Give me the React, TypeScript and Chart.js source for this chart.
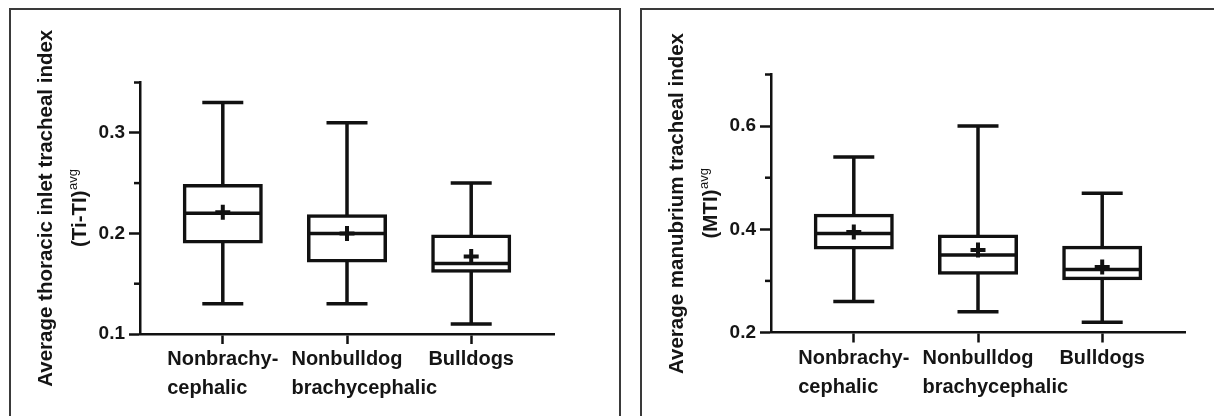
import React, { useEffect, useRef } from "react";
import { Chart, registerables } from "chart.js";

Chart.register(...registerables);

// ---------- data ----------
const categories: string[][] = [
  ["Nonbrachy-", "cephalic"],
  ["Nonbulldog", "brachycephalic"],
  ["Bulldogs"],
];
const categoryPositions = [1, 2, 3];

// Thoracic inlet tracheal index (Ti-TI)avg
const tiMin = [0.13, 0.13, 0.11];
const tiQ1 = [0.191, 0.172, 0.162];
const tiMedian = [0.22, 0.2, 0.17];
const tiQ3 = [0.248, 0.218, 0.198];
const tiMax = [0.33, 0.31, 0.25];
const tiMean = [0.221, 0.2, 0.177];
const tiMajorTicks = [0.1, 0.2, 0.3];
const tiMinorTicks = [0.15, 0.25, 0.35];
const tiTickLabels = ["0.1", "0.2", "0.3"];

// Manubrium tracheal index (MTI)avg
const mtiMin = [0.26, 0.24, 0.22];
const mtiQ1 = [0.363, 0.314, 0.303];
const mtiMedian = [0.392, 0.35, 0.322];
const mtiQ3 = [0.428, 0.388, 0.366];
const mtiMax = [0.54, 0.6, 0.47];
const mtiMean = [0.395, 0.36, 0.327];
const mtiMajorTicks = [0.2, 0.4, 0.6];
const mtiMinorTicks = [0.3, 0.5, 0.7];
const mtiTickLabels = ["0.2", "0.4", "0.6"];

// ---------- styling ----------
const FONT = "'Liberation Sans', Arial, Helvetica, sans-serif";
const INK = "#111111";
const TEXT = "#151515";
const CLEAR = "rgba(0,0,0,0)";

type Panel = {
  min: number[];
  q1: number[];
  median: number[];
  q3: number[];
  max: number[];
  mean: number[];
  yMin: number;
  yMax: number;
  major: number[];
  minor: number[];
  majorLabels: string[];
  title1: string;
  title2: string;
  titleSup: string;
  padTop: number;
  padRight: number;
  axisWidth: number;
  xAxisHeight: number;
};

const leftPanel: Panel = {
  min: tiMin, q1: tiQ1, median: tiMedian, q3: tiQ3, max: tiMax, mean: tiMean,
  yMin: 0.1, yMax: 0.35,
  major: tiMajorTicks, minor: tiMinorTicks, majorLabels: tiTickLabels,
  title1: "Average thoracic inlet tracheal index",
  title2: "(Ti-TI)",
  titleSup: "avg",
  padTop: 82.5, padRight: 76, axisWidth: 140, xAxisHeight: 82,
};

const rightPanel: Panel = {
  min: mtiMin, q1: mtiQ1, median: mtiMedian, q3: mtiQ3, max: mtiMax, mean: mtiMean,
  yMin: 0.2, yMax: 0.7,
  major: mtiMajorTicks, minor: mtiMinorTicks, majorLabels: mtiTickLabels,
  title1: "Average manubrium tracheal index",
  title2: "(MTI)",
  titleSup: "avg",
  padTop: 74.5, padRight: 29, axisWidth: 141, xAxisHeight: 83.5,
};

const near = (a: number, b: number) => Math.abs(a - b) < 1e-6;

function makePlugin(p: Panel) {
  return {
    id: "boxExtras",
    beforeDatasetsDraw(chart: any) {
      const { ctx } = chart;
      const xs = chart.scales.x;
      const ys = chart.scales.y;
      ctx.save();
      ctx.strokeStyle = INK;
      ctx.lineWidth = 3.5;
      ctx.lineCap = "butt";
      categoryPositions.forEach((pos, i) => {
        const cx = xs.getPixelForValue(pos);
        const yMax = ys.getPixelForValue(p.max[i]);
        const yQ3 = ys.getPixelForValue(p.q3[i]);
        const yQ1 = ys.getPixelForValue(p.q1[i]);
        const yMin = ys.getPixelForValue(p.min[i]);
        const yMed = ys.getPixelForValue(p.median[i]);
        ctx.beginPath();
        ctx.moveTo(cx, yQ3);
        ctx.lineTo(cx, yMax);
        ctx.moveTo(cx - 20.5, yMax);
        ctx.lineTo(cx + 20.5, yMax);
        ctx.moveTo(cx, yQ1);
        ctx.lineTo(cx, yMin);
        ctx.moveTo(cx - 20.5, yMin);
        ctx.lineTo(cx + 20.5, yMin);
        ctx.moveTo(cx - 39, yMed);
        ctx.lineTo(cx + 39, yMed);
        ctx.stroke();
      });
      ctx.restore();
    },
    afterDraw(chart: any) {
      const { ctx, chartArea } = chart;
      const xs = chart.scales.x;
      const ys = chart.scales.y;
      ctx.save();
      // minor y ticks
      ctx.strokeStyle = INK;
      ctx.lineWidth = 2.5;
      p.minor.forEach((v) => {
        const y = ys.getPixelForValue(v);
        ctx.beginPath();
        ctx.moveTo(chartArea.left - 6, y);
        ctx.lineTo(chartArea.left, y);
        ctx.stroke();
      });
      // category labels: first line centred on tick, following lines left-aligned with it
      ctx.fillStyle = TEXT;
      ctx.font = `bold 20px ${FONT}`;
      ctx.textAlign = "left";
      ctx.textBaseline = "alphabetic";
      categoryPositions.forEach((pos, i) => {
        const cx = xs.getPixelForValue(pos);
        const lines = categories[i];
        const w0 = ctx.measureText(lines[0]).width;
        const sx = cx - w0 / 2;
        lines.forEach((line, j) => {
          ctx.fillText(line, sx, chartArea.bottom + 31 + j * 29);
        });
      });
      // rotated y-axis title
      const yc = (chartArea.top + chartArea.bottom) / 2;
      ctx.save();
      ctx.translate(chartArea.left - 88, yc);
      ctx.rotate(-Math.PI / 2);
      ctx.textAlign = "center";
      ctx.font = `bold 20.5px ${FONT}`;
      ctx.fillText(p.title1, 0, 0);
      ctx.restore();

      ctx.save();
      ctx.translate(chartArea.left - 54, yc);
      ctx.rotate(-Math.PI / 2);
      ctx.textAlign = "left";
      ctx.font = `bold 20.5px ${FONT}`;
      const w1 = ctx.measureText(p.title2).width;
      ctx.font = `13px ${FONT}`;
      const w2 = ctx.measureText(p.titleSup).width;
      const start = -(w1 + w2) / 2;
      ctx.font = `bold 20.5px ${FONT}`;
      ctx.fillText(p.title2, start, 0);
      ctx.font = `13px ${FONT}`;
      ctx.fillText(p.titleSup, start + w1 + 0.5, -9);
      ctx.restore();

      ctx.restore();
    },
  };
}

function makeConfig(p: Panel): any {
  const allTicks = [...p.major, ...p.minor].sort((a, b) => a - b);
  const isMajor = (v: number) => p.major.some((m) => near(m, v));
  return {
    type: "bar",
    data: {
      datasets: [
        {
          type: "bar",
          data: categoryPositions.map((x, i) => ({ x, y: [p.q1[i], p.q3[i]] })),
          backgroundColor: CLEAR,
          borderColor: INK,
          borderWidth: 1.5,
          inflateAmount: 1,
          borderSkipped: false,
          barThickness: 78,
          grouped: false,
          order: 2,
        },
        {
          type: "scatter",
          data: categoryPositions.map((x, i) => ({ x, y: p.mean[i] })),
          pointStyle: "cross",
          pointRadius: 7.5,
          pointHoverRadius: 7.5,
          borderWidth: 4,
          borderColor: INK,
          backgroundColor: INK,
          order: 1,
        },
      ],
    },
    options: {
      responsive: false,
      animation: false,
      events: [],
      layout: { padding: { left: 0, top: p.padTop, right: p.padRight, bottom: 0 } },
      plugins: {
        legend: { display: false },
        tooltip: { enabled: false },
        title: { display: false },
      },
      scales: {
        x: {
          type: "linear",
          min: 1 / 3,
          max: 11 / 3,
          offset: false,
          afterBuildTicks: (s: any) => {
            s.ticks = categoryPositions.map((v) => ({ value: v }));
          },
          afterFit: (s: any) => {
            s.height = p.xAxisHeight;
          },
          ticks: { display: false },
          grid: {
            offset: false,
            drawOnChartArea: false,
            drawTicks: true,
            tickLength: 10,
            tickColor: INK,
            tickWidth: 2.5,
          },
          border: { display: true, color: INK, width: 2.5 },
        },
        y: {
          type: "linear",
          min: p.yMin,
          max: p.yMax,
          afterBuildTicks: (s: any) => {
            s.ticks = allTicks.map((v) => ({ value: v }));
          },
          afterFit: (s: any) => {
            s.width = p.axisWidth;
          },
          ticks: {
            autoSkip: false,
            padding: 4,
            color: TEXT,
            font: { family: FONT, size: 19, weight: "bold" },
            callback: (v: number) => {
              const idx = p.major.findIndex((m) => near(m, v));
              return idx >= 0 ? p.majorLabels[idx] : "";
            },
          },
          grid: {
            drawOnChartArea: false,
            drawTicks: true,
            tickLength: 11,
            tickWidth: 2.5,
            tickColor: (c: any) => (c.tick && isMajor(c.tick.value) ? INK : CLEAR),
          },
          border: { display: true, color: INK, width: 2.5 },
        },
      },
    },
    plugins: [makePlugin(p)],
  };
}

export default function App() {
  const leftRef = useRef<HTMLCanvasElement>(null);
  const rightRef = useRef<HTMLCanvasElement>(null);

  useEffect(() => {
    const c1 = new Chart(leftRef.current as HTMLCanvasElement, makeConfig(leftPanel));
    const c2 = new Chart(rightRef.current as HTMLCanvasElement, makeConfig(rightPanel));
    return () => {
      c1.destroy();
      c2.destroy();
    };
  }, []);

  const frame: React.CSSProperties = {
    position: "absolute",
    top: 8,
    height: 440,
    border: "2px solid #3a3a3a",
    boxSizing: "border-box",
  };

  return (
    <div
      style={{
        position: "absolute",
        left: 0,
        top: 0,
        width: 1214,
        height: 416,
        overflow: "hidden",
        background: "#ffffff",
      }}
    >
      <div style={{ ...frame, left: 9, width: 612 }} />
      <div style={{ ...frame, left: 640, width: 600 }} />
      <canvas
        ref={leftRef}
        width={630}
        height={416}
        style={{ position: "absolute", left: 0, top: 0, width: 630, height: 416 }}
      />
      <canvas
        ref={rightRef}
        width={584}
        height={416}
        style={{ position: "absolute", left: 630, top: 0, width: 584, height: 416 }}
      />
    </div>
  );
}
